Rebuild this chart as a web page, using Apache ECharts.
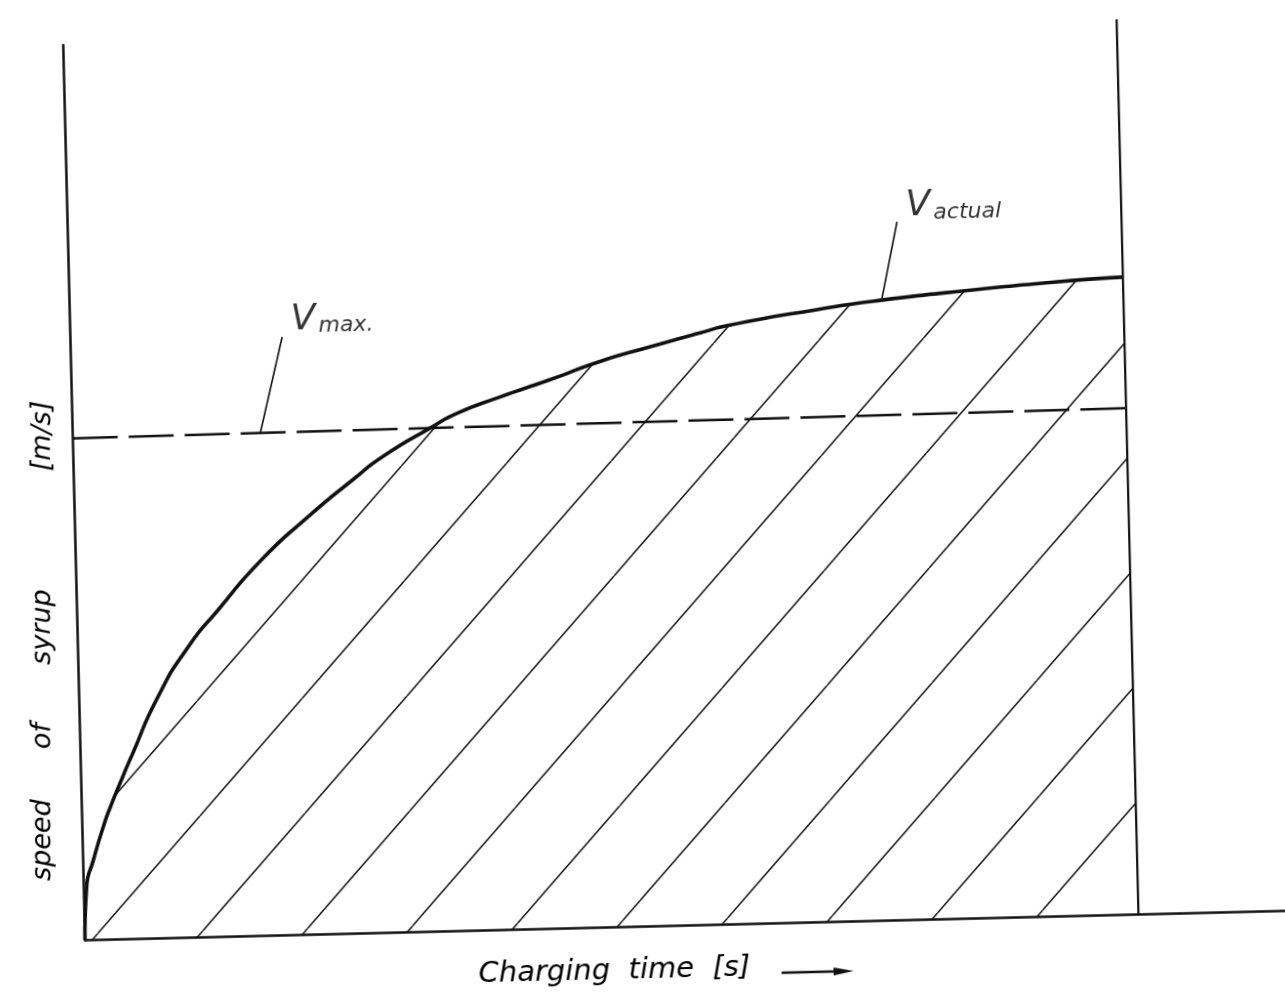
<!DOCTYPE html>
<html>
<head>
<meta charset="utf-8">
<script src="https://cdn.jsdelivr.net/npm/echarts/dist/echarts.min.js"></script>
<title>speed of syrup / charging time</title>
<style>
html, body { margin: 0; padding: 0; background: #fff; overflow: hidden; }
/* the scanned drawing sits slightly skewed on the page */
#container { position: absolute; left: 0; top: 0; width: 1285px; height: 998px;
  transform: rotate(-1.4deg); transform-origin: 50% 50%; }
</style>
</head>
<body>
<div id="container"></div>
<script type="text/javascript">
// values: x = charging time, y = speed (0..100 = full height)
var timeX  = [0, 0.28, 0.98, 2.0, 2.68, 3.68, 4.88, 7.5, 10.5, 13.4, 17.6, 22.2, 26.4, 29.4,
              34.2, 36.5, 40.6, 45.4, 50.2, 55.0, 59.7, 62.6, 70.9, 77.2, 86.1, 93.1, 100];
var speedY = [0, 5.95, 8.9, 12.6, 14.7, 17.4, 20.5, 27.0, 32.5, 36.5, 41.95, 46.7, 50.6, 53.2,
              56.4, 57.8, 59.5, 61.3, 63.2, 64.7, 66.1, 66.9, 68.4, 69.3, 70.2, 70.8, 71.2];
var vmaxX = [0, 100];
var vmaxY = [56.05, 56.55];
var endX = [100, 100];            // end of charging
var endY = [0, 100];
var leaderMaxX = [17.8, 20.1];
var leaderMaxY = [56.1, 66.8];
var leaderActX = [77.1, 78.7];
var leaderActY = [69.5, 78.0];
var labelX = [21.0, 79.6];
var labelY = [66.6, 77.6];
var labelSub = ['max.', 'actual'];

// axis titles
var yWords = ['speed', 'of', 'syrup', '[m/s]'];
var yWordPos = [[34.9, 825.3], [37.4, 721.3], [39.9, 612.3], [44.7, 421.4]];
var xTitle = 'Charging  time  [s]';

function pairs(xs, ys) {
    return xs.map(function (x, i) { return [x, ys[i]]; });
}

// diagonal hatching under the curve
function hatch() {
    var w = 105, h = 115, s = 87.4;
    var c = document.createElement('canvas');
    c.width = w; c.height = h;
    var ctx = c.getContext('2d');
    ctx.strokeStyle = '#111';
    ctx.lineWidth = 1.5;
    for (var k = -1; k <= 2; k++) {
        ctx.beginPath();
        ctx.moveTo(s + k * w, 0);
        ctx.lineTo(s + (k - 1) * w, h);
        ctx.stroke();
    }
    return c;
}

var font = '"DejaVu Sans", sans-serif';
var ink = '#111';

function plainLine(data, width, type) {
    return {
        type: 'line', data: data, showSymbol: false, silent: true, animation: false,
        lineStyle: { color: ink, width: width, type: type || 'solid' }
    };
}

var graphics = yWords.map(function (w, i) {
    return {
        type: 'text', x: yWordPos[i][0], y: yWordPos[i][1], rotation: (90 - 1.4) * Math.PI / 180,
        style: {
            text: w, font: 'italic 27px ' + font, fill: '#000',
            align: 'center', verticalAlign: 'middle',
            textAlign: 'center', textVerticalAlign: 'middle'
        }
    };
});
graphics.push(
    {
        type: 'text', x: 467, y: 970.9,
        style: {
            text: xTitle, font: 'italic 29px ' + font, fill: '#000',
            align: 'left', verticalAlign: 'middle',
            textAlign: 'left', textVerticalAlign: 'middle'
        }
    },
    {
        type: 'line', shape: { x1: 770, y1: 976, x2: 830, y2: 976 },
        style: { stroke: ink, lineWidth: 2.5 }
    },
    {
        type: 'polygon', shape: { points: [[822, 972], [842, 976], [822, 980]] },
        style: { fill: ink }
    }
);

var myChart = echarts.init(document.getElementById('container'));

var option = {
    backgroundColor: '#fff',
    animation: false,
    grid: { left: 74.4, top: 31, right: 9.3, bottom: 71.7, containLabel: false, outerBoundsMode: 'none' },
    xAxis: {
        type: 'value', min: 0, max: 114,
        axisLine: { show: true, lineStyle: { color: ink, width: 2.5 } },
        axisTick: { show: false }, axisLabel: { show: false }, splitLine: { show: false }
    },
    yAxis: {
        type: 'value', min: 0, max: 100,
        axisLine: { show: true, lineStyle: { color: ink, width: 2.5 } },
        axisTick: { show: false }, axisLabel: { show: false }, splitLine: { show: false }
    },
    graphic: graphics,
    series: [
        {
            name: 'V actual',
            type: 'line',
            data: pairs(timeX, speedY),
            smooth: 0.6,
            showSymbol: false,
            silent: true,
            lineStyle: { color: ink, width: 3.6 },
            areaStyle: { color: { image: hatch(), repeat: 'repeat' }, opacity: 1 }
        },
        plainLine(pairs(vmaxX, vmaxY), 2.5, [45, 11]),
        plainLine(pairs(endX, endY), 2.2),
        plainLine(pairs(leaderMaxX, leaderMaxY), 1.6),
        plainLine(pairs(leaderActX, leaderActY), 1.6),
        {
            type: 'scatter',
            silent: true,
            symbolSize: 1,
            itemStyle: { color: 'rgba(0,0,0,0)' },
            data: labelSub.map(function (s, i) {
                return { value: [labelX[i], labelY[i]], label: { formatter: '{v|V}{s|' + s + '}' } };
            }),
            label: {
                show: true,
                position: [0, 0],
                align: 'left',
                verticalAlign: 'bottom',
                rich: {
                    v: { fontSize: 36, lineHeight: 36, fontStyle: 'italic', fontFamily: font, color: '#000', verticalAlign: 'bottom' },
                    s: { fontSize: 22, lineHeight: 22, fontStyle: 'italic', fontFamily: font, color: '#000', verticalAlign: 'bottom', padding: [0, 0, 0, 3] }
                }
            }
        }
    ]
};

myChart.setOption(option);
</script>
</body>
</html>
